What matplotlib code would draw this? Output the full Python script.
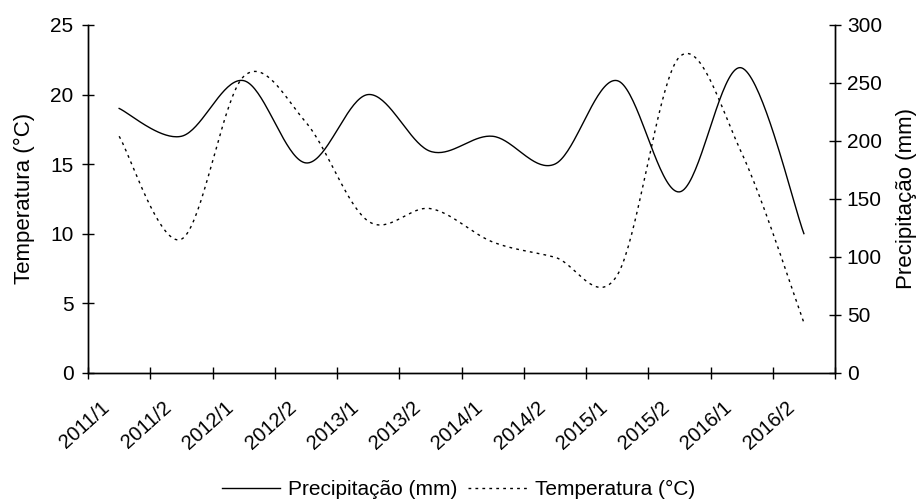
import numpy as np
import matplotlib
matplotlib.use("Agg")
import matplotlib.pyplot as plt
from matplotlib.transforms import ScaledTranslation
from matplotlib.lines import Line2D

plt.rcParams['font.family'] = ['Liberation Sans', 'DejaVu Sans']

categories = ["2011/1", "2011/2", "2012/1", "2012/2", "2013/1", "2013/2",
              "2014/1", "2014/2", "2015/1", "2015/2", "2016/1", "2016/2"]
precipitacao = [228, 204, 252, 181, 240, 191, 204, 180, 252, 156, 263, 120]
temperatura = [17.0, 9.6, 21.3, 18.0, 10.9, 11.8, 9.4, 8.3, 7.0, 22.7, 15.8, 3.6]


def smooth(x, y, n=40):
    x = np.asarray(x, float)
    y = np.asarray(y, float)
    px = np.concatenate([[x[0]], x, [x[-1]]])
    py = np.concatenate([[y[0]], y, [y[-1]]])
    xs, ys = [], []
    t = np.linspace(0, 1, n)
    for i in range(1, len(px) - 2):
        p0 = np.array([px[i], py[i]])
        p3 = np.array([px[i + 1], py[i + 1]])
        b1 = p0 + (np.array([px[i + 1], py[i + 1]]) - np.array([px[i - 1], py[i - 1]])) / 6
        b2 = p3 - (np.array([px[i + 2], py[i + 2]]) - np.array([px[i], py[i]])) / 6
        pts = ((1 - t) ** 3)[:, None] * p0 + (3 * (1 - t) ** 2 * t)[:, None] * b1 \
            + (3 * (1 - t) * t ** 2)[:, None] * b2 + (t ** 3)[:, None] * p3
        xs.append(pts[:, 0])
        ys.append(pts[:, 1])
    return np.concatenate(xs), np.concatenate(ys)


FS = 15
fig = plt.figure(figsize=(9.17, 5.04), dpi=100)
ax = fig.add_axes([0.096, 0.2605, 0.8146, 0.6899])
ax2 = ax.twinx()

x = np.arange(len(categories))
tx, ty = smooth(x, temperatura)
px_, py_ = smooth(x, precipitacao)
ax.plot(tx, ty, color='black', lw=1.0, linestyle=(0, (2, 3)))
ax2.plot(px_, py_, color='black', lw=1.0)

ax.set_xlim(-0.5, len(categories) - 0.5)
ax.set_ylim(0, 25)
ax2.set_ylim(0, 300)
ax.set_yticks(np.arange(0, 26, 5))
ax2.set_yticks(np.arange(0, 301, 50))

ax.set_xticks(np.arange(-0.5, len(categories), 1.0))
ax.set_xticklabels([])
ax.set_xticks(x, minor=True)
ax.set_xticklabels(categories, minor=True, rotation=42, ha='right', va='top',
                   rotation_mode='default', fontsize=14.5)
ax.tick_params(axis='x', which='minor', length=0, pad=18)
off = ScaledTranslation(-6 / 100, 0, fig.dpi_scale_trans)
for lab in ax.xaxis.get_minorticklabels():
    lab.set_transform(lab.get_transform() + off)

for a in (ax, ax2):
    a.spines['top'].set_visible(False)
    for s in a.spines.values():
        s.set_linewidth(1.0)
ax.tick_params(axis='both', which='major', direction='inout', length=9, width=1.0,
               labelsize=FS)
ax.tick_params(axis='y', pad=6)
ax2.tick_params(axis='y', direction='inout', length=9, width=1.0, labelsize=FS, pad=4)

ax.set_ylabel('Temperatura (°C)', fontsize=16)
ax2.set_ylabel('Precipitação (mm)', fontsize=16)
ax.yaxis.set_label_coords(-0.071, 0.5)
ax2.yaxis.set_label_coords(1.082, 0.5)

handles = [Line2D([], [], color='black', lw=1.0),
           Line2D([], [], color='black', lw=1.0, linestyle=(0, (2, 3)))]
fig.legend(handles, ['Precipitação (mm)', 'Temperatura (°C)'], loc='center',
           bbox_to_anchor=(0.5, 0.028), ncol=2, frameon=False, fontsize=FS,
           handlelength=2.8, handletextpad=0.4, columnspacing=0.5, borderpad=0)

fig.savefig('out.png', dpi=100)
